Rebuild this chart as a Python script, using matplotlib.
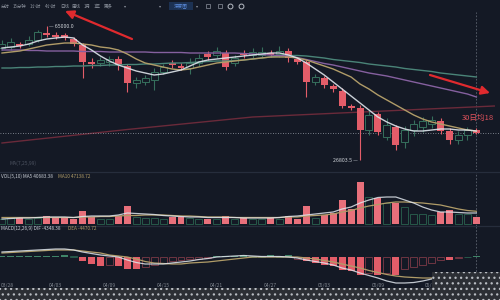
import numpy as np
import matplotlib
matplotlib.use('Agg')
import matplotlib.pyplot as plt
from matplotlib.patches import Rectangle
from matplotlib.transforms import blended_transform_factory

# ---------------- data ----------------
opens = [58730, 59015, 59870, 59870, 61010, 63005, 62435, 62435, 61295, 59585,
         54740, 54455, 54740, 55595, 53600, 48755, 49040, 49610, 51890, 54455,
         53600, 53030, 54455, 57020, 56735, 57305, 54455, 57305, 56735, 56735,
         57305, 57020, 57875, 55595, 54740, 49040, 50180, 47900, 46475, 42200,
         41630, 35360, 39920, 33365, 36215, 31940, 35360, 36215, 37070, 37925,
         35075, 32510, 33935, 35360]
closes = [59870, 60440, 59300, 61010, 63290, 62435, 61865, 61580, 59870, 54740,
          54170, 55310, 55595, 53885, 48755, 49610, 50180, 51890, 53315, 53885,
          53030, 54455, 55880, 56165, 57875, 53315, 55880, 56735, 57590, 57590,
          56735, 57875, 55880, 54740, 49040, 50465, 48185, 47045, 42200, 41630,
          35360, 39635, 34790, 36785, 31085, 35360, 37070, 37925, 38210, 35075,
          32510, 33935, 35360, 34505]
highs = [61010, 61580, 60440, 62150, 63860, 65000, 63290, 63005, 61865, 60155,
         55880, 56165, 56450, 56450, 54170, 50465, 51035, 53030, 54170, 55310,
         54455, 55880, 57020, 57875, 59015, 58160, 56735, 58160, 58730, 59015,
         58160, 59300, 58730, 56165, 55310, 51320, 50750, 48470, 47330, 42770,
         42485, 41060, 40490, 38780, 36785, 36500, 38210, 39065, 39350, 38780,
         35930, 35075, 36215, 35930]
lows = [58160, 58160, 58730, 59300, 60440, 61865, 61295, 61010, 59300, 50180,
        53030, 53600, 53600, 52460, 46190, 47330, 48185, 46760, 51320, 53030,
        52460, 51320, 53600, 55310, 55880, 52460, 53600, 55880, 55880, 56165,
        56165, 56165, 54740, 54170, 44765, 48185, 47330, 46190, 41630, 41060,
        26803.5, 33935, 33935, 32510, 29660, 30230, 33650, 34790, 35930, 34220,
        31370, 31370, 32510, 34220]

ma_fast = [58730, 59015, 59300, 59870, 60725, 61295, 61580, 61865, 61580, 59585,
           58160, 56450, 55025, 53885, 53030, 52175, 51605, 51035, 51320, 51890,
           52460, 53600, 54740, 55310, 55595, 55880, 56165, 56450, 56735, 57020,
           57305, 57305, 56735, 55880, 54455, 52745, 51035, 49040, 47045, 45050,
           43055, 41060, 39065, 37640, 36500, 35645, 35075, 35075, 35360, 35645,
           35645, 35360, 35360, 35075]
ma_mid = [57305, 57590, 57875, 58445, 59015, 59585, 59870, 60155, 60155, 59870,
          59585, 59015, 58730, 58160, 57020, 55595, 54455, 53885, 53315, 52745,
          52460, 52745, 53315, 53885, 54455, 54740, 55025, 55310, 55595, 55880,
          56165, 56165, 56165, 55880, 55310, 54455, 53600, 52745, 51605, 50465,
          48470, 47045, 45335, 43910, 42485, 41060, 39635, 38495, 37640, 37070,
          36500, 35930, 35360, 35075]
ma_slow = [58160, 58160, 58160, 58018, 58018, 57875, 57875, 57875, 57875, 57733,
           57733, 57733, 57590, 57590, 57590, 57590, 57590, 57448, 57448, 57448,
           57448, 57305, 57305, 57305, 57305, 57305, 57305, 57163, 57020, 56878,
           56735, 56593, 56450, 56008, 55453, 54883, 54313, 53885, 53315, 52745,
           52175, 51605, 51178, 50750, 50180, 49610, 49040, 48470, 47900, 47330,
           46760, 46190, 45620, 44765]
ma_long = [53030, 53030, 53173, 53173, 53315, 53315, 53458, 53458, 53600, 53600,
           53743, 53743, 53885, 53885, 54028, 54028, 54170, 54170, 54313, 54455,
           54455, 54598, 54740, 54883, 55025, 55025, 55168, 55310, 55595, 55880,
           56165, 56450, 56593, 56593, 56450, 56165, 55880, 55453, 55168, 54883,
           54598, 54170, 53885, 53600, 53315, 52888, 52603, 52318, 52033, 51605,
           51320, 51035, 50750, 50465]
trend_idx = [0, 14, 28, 55]
trend_val = [31655, 35503, 39065, 42200]

volumes = [18500, 22200, 22200, 18500, 22200, 29600, 22200, 25900, 18500, 48100,
           25900, 18500, 18500, 29600, 66600, 25900, 22200, 22200, 18500, 25900,
           25900, 22200, 18500, 18500, 18500, 29600, 18500, 22200, 18500, 18500,
           22200, 18500, 29600, 18500, 66600, 22200, 33300, 40700, 88800, 55500,
           155400, 99900, 96200, 77700, 77700, 62900, 37000, 37000, 33300, 44400,
           51800, 37000, 37000, 25900]
vol_ma5 = [18500, 20350, 22200, 22200, 24050, 25900, 25900, 25900, 24050, 27750,
           29600, 29600, 29600, 33300, 40700, 38850, 37000, 35150, 31450, 29600,
           27750, 25900, 25900, 24050, 24050, 24050, 24050, 22200, 22200, 22200,
           22200, 24050, 27750, 29600, 33300, 37000, 40700, 44400, 55500, 62900,
           77700, 88800, 98050, 99900, 99900, 88800, 77700, 62900, 51800, 44400,
           44400, 42550, 40700, 40683.38]
vol_ma10 = [24050, 24050, 24050, 24050, 24050, 24050, 24050, 24050, 24050, 25900,
            25900, 27750, 27750, 29600, 31450, 31450, 33300, 33300, 33300, 31450,
            29600, 29600, 27750, 25900, 25900, 25900, 24050, 24050, 24050, 24050,
            24050, 24050, 25900, 25900, 29600, 31450, 33300, 37000, 44400, 49950,
            59200, 66600, 72150, 77700, 81400, 81400, 79550, 77700, 74000, 70300,
            62900, 55500, 49950, 47138.72]

dif = [950, 1045, 1140, 1235, 1330, 1425, 1520, 1520, 1330, 950,
       665, 380, 190, 0, -570, -1045, -1330, -1330, -1330, -1140,
       -950, -760, -475, -285, 0, 95, 190, 285, 190, 95,
       95, 95, 0, -190, -570, -855, -1140, -1520, -2090, -2470,
       -3040, -3515, -3990, -4560, -4940, -4940, -4845, -4560, -4180, -4085,
       -4180, -4275, -4330, -4348.38]
dea = [760, 855, 950, 1045, 1140, 1235, 1330, 1330, 1330, 1140,
       950, 760, 380, 190, 0, -380, -855, -1140, -1235, -1330,
       -1330, -1140, -1045, -950, -760, -570, -380, -190, 0, 0,
       0, 0, 0, 0, -190, -380, -665, -950, -1330, -1710,
       -2090, -2565, -2945, -3325, -3610, -3800, -3895, -3990, -3990, -4085,
       -4085, -4180, -4370, -4470.72]
hist = [190, 190, 190, 190, 190, 285, 285, 380, 190, -760,
        -1330, -1710, -1520, -1710, -2280, -2280, -1900, -1520, -1140, -760,
        -570, -380, -285, -190, 190, 190, 285, 380, 285, 190,
        380, 285, 380, -285, -760, -1140, -1520, -1710, -2470, -2660,
        -3420, -3040, -3420, -3040, -3420, -2280, -1900, -1520, -1140, -570,
        -570, -190, 95, 190]

date_idx = [0, 6, 12, 18, 24, 30, 36, 42, 48]
date_labels = ["03/28", "04/03", "04/09", "04/15", "04/21", "04/27", "05/03", "05/09", "05/15"]

toolbar_items = ["分时", "15分钟", "1小时", "4小时", "日线", "周线", "1月", "1年", "更多"]

high_label = "65000.0"
low_label = "26803.5"
vol_text = "VOL(5,10) MA5 40683.38"
vol_text2 = "MA10 47138.72"
macd_text = "MACD(12,26,9) DIF -4348.38"
macd_text2 = "DEA -4470.72"
ma_note = "30日均18"

# ---------------- style ----------------
plt.rcParams['font.family'] = ['Noto Sans CJK SC', 'DejaVu Sans']
plt.rcParams['hatch.linewidth'] = 0.9
BG = '#141925'
RED = '#e35d69'
GREEN = '#366f5c'
WHITE = '#dfe5ec'
TAN = '#b09c68'
PURPLE = '#85609f'
TEAL = '#4a8478'
DRED = '#6a2a3a'
TXT = '#8d939e'

fig = plt.figure(figsize=(5, 3), dpi=100, facecolor=BG)
ax_p = fig.add_axes([0, 1 - 170 / 300, 1, 158 / 300])
ax_v = fig.add_axes([0, 1 - 226 / 300, 1, 54 / 300])
ax_m = fig.add_axes([0, 1 - 288 / 300, 1, 62 / 300])
for ax in (ax_p, ax_v, ax_m):
    ax.set_facecolor(BG)
    ax.set_xlim(-0.2235, 55.64)
    ax.set_xticks([])
    ax.set_yticks([])
    for s in ax.spines.values():
        s.set_visible(False)
    ax.axvline(53, color='#5d6470', lw=0.6, ls=(0, (2, 2)), zorder=1)
for ax in (ax_v, ax_m):
    ax.spines['top'].set_visible(True)
    ax.spines['top'].set_color('#262d3c')
    ax.spines['top'].set_linewidth(0.9)

ax_p.set_ylim(23960, 68990)
ax_v.set_ylim(-7400, 192400)
ax_m.set_ylim(-5890, 5890)

idx = np.arange(len(opens))
o = np.array(opens, float); c = np.array(closes, float)
h = np.array(highs, float); l = np.array(lows, float)
up = c >= o
W = 0.78

# price panel
ax_p.plot(trend_idx, trend_val, color=DRED, lw=1.0, zorder=1.5)
ax_p.axhline(closes[-1], color='#9aa0aa', lw=0.6, ls=(0, (1, 2)), zorder=1.6)
ax_p.vlines(idx[~up], l[~up], h[~up], color=RED, lw=0.8, zorder=2)
ax_p.vlines(idx[up], l[up], h[up], color=GREEN, lw=0.8, zorder=2)
ax_p.bar(idx[~up], (o - c)[~up], bottom=c[~up], width=W, color=RED, zorder=3)
ax_p.bar(idx[up], (c - o)[up], bottom=o[up], width=W, facecolor=BG,
         edgecolor=GREEN, lw=0.7, zorder=3)
ax_p.plot(idx, ma_long, color=TEAL, lw=1.0, zorder=4)
ax_p.plot(idx, ma_slow, color=PURPLE, lw=1.0, zorder=4)
ax_p.plot(idx, ma_mid, color=TAN, lw=1.0, zorder=4)
ax_p.plot(idx, ma_fast, color=WHITE, lw=1.0, alpha=0.9, zorder=4)

ih = int(np.argmax(h)); il = int(np.argmin(l))
ax_p.text(ih + 0.25, h[ih], "— " + high_label, color='#d0d4da', fontsize=3.8,
          va='center', ha='left', zorder=6)
ax_p.text(il - 0.25, l[il], low_label + " —", color='#d0d4da', fontsize=3.8,
          va='center', ha='right', zorder=6)
ax_p.text(51.4, 38780, ma_note, color='#e0525c', fontsize=5.5, va='center',
          ha='left', zorder=6, clip_on=False)
ax_p.text(0.02, 0.045, "MA(7,25,99)", transform=ax_p.transAxes, color='#4c5260',
          fontsize=3.6, va='center', ha='left')

# volume panel
vol = np.array(volumes, float)
ax_v.bar(idx[~up], vol[~up], width=W, color='#e8707b', zorder=3)
ax_v.bar(idx[up], vol[up], width=W, facecolor=BG, edgecolor='#27584a', lw=0.7, zorder=3)
ax_v.plot(idx, vol_ma10, color=TAN, lw=0.9, zorder=4)
ax_v.plot(idx, vol_ma5, color=WHITE, lw=0.9, alpha=0.85, zorder=4)

# MACD panel
hv = np.array(hist, float)
prev = np.concatenate([[0], hv[:-1]])
grow = np.abs(hv) >= np.abs(prev)
neg = hv < 0
m1 = neg & grow; m2 = neg & ~grow; m3 = ~neg & grow; m4 = ~neg & ~grow
ax_m.bar(idx[m1], hv[m1], width=W, color=RED, zorder=3)
ax_m.bar(idx[m2], hv[m2], width=W, facecolor=BG, edgecolor='#6e3542', lw=0.7, zorder=3)
ax_m.bar(idx[m3], hv[m3], width=W, color='#3f8468', zorder=3)
ax_m.bar(idx[m4], hv[m4], width=W, facecolor=BG, edgecolor='#27584a', lw=0.7, zorder=3)
ax_m.plot(idx, dea, color=TAN, lw=0.9, zorder=4)
ax_m.plot(idx, dif, color=WHITE, lw=0.9, alpha=0.85, zorder=4)
tr = blended_transform_factory(ax_m.transData, ax_m.transAxes)
for di, dl in zip(date_idx, date_labels):
    ax_m.text(max(di, 0.6), 0.035, dl, transform=tr, color='#80868f', fontsize=3.6,
              ha='center', va='center', zorder=5)

# ---------------- overlay (texts, marks) ----------------
ov = fig.add_axes([0, 0, 1, 1], zorder=10)
ov.set_xlim(0, 500); ov.set_ylim(300, 0); ov.axis('off')
ov.patch.set_alpha(0)

tb_x = [1, 13, 30, 45, 60, 72, 84, 94, 104]
for tx, tt in zip(tb_x, toolbar_items):
    ov.text(tx, 6, tt, color=TXT, fontsize=3.2, va='center', ha='left')
ov.add_patch(Rectangle((169, 2), 24, 8, facecolor='#1c3152', edgecolor='none'))
ov.text(181, 6, "深度图", color='#5d8ee0', fontsize=3.3, va='center', ha='center')
for tx in (125, 160, 197):
    ov.text(tx, 6, "▾", color=TXT, fontsize=3, va='center', ha='center')
ov.plot([208, 220], [6, 6], ls='none', marker='s', ms=2.2, mfc='none', mec=TXT, mew=0.5)
ov.plot([230, 241], [6, 6], ls='none', marker='o', ms=3.5, mfc='none', mec='#b7bcc5', mew=0.7)

ov.text(1, 176, vol_text, color='#c9ced6', fontsize=3.4, va='center', ha='left')
ov.text(58, 176, vol_text2, color=TAN, fontsize=3.4, va='center', ha='left')
ov.text(1, 228, macd_text, color='#c9ced6', fontsize=3.4, va='center', ha='left')
ov.text(68, 228, macd_text2, color=TAN, fontsize=3.4, va='center', ha='left')

ov.annotate('', xy=(65, 11), xytext=(132, 39),
            arrowprops=dict(arrowstyle='-|>,head_length=0.5,head_width=0.25',
                            color='#e02a2e', lw=1.6, shrinkA=0, shrinkB=0))
ov.annotate('', xy=(490, 93), xytext=(430, 75),
            arrowprops=dict(arrowstyle='-|>,head_length=0.5,head_width=0.25',
                            color='#e02a2e', lw=1.6, shrinkA=0, shrinkB=0))

ov.add_patch(Rectangle((0, 288), 500, 12, facecolor='#2c2f35', edgecolor='#b8bcc2',
                       hatch='...', lw=0))
ov.add_patch(Rectangle((432, 272), 68, 17, facecolor='#2c2f35', edgecolor='#b8bcc2',
                       hatch='...', lw=0))

fig.savefig('out.png', dpi=100, facecolor=BG)
